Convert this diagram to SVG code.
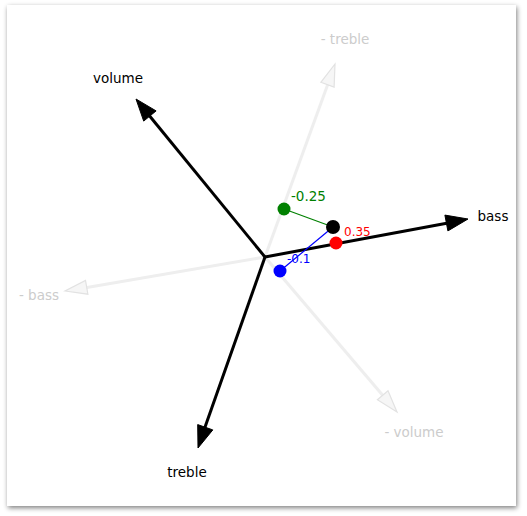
<svg xmlns="http://www.w3.org/2000/svg" width="527" height="516" viewBox="0 0 527 516">
<defs>
<filter id="sh" x="-5%" y="-5%" width="110%" height="110%">
<feGaussianBlur in="SourceAlpha" stdDeviation="2.5"/>
<feOffset dx="1" dy="2" result="b"/>
<feComponentTransfer><feFuncA type="linear" slope="0.5"/></feComponentTransfer>
<feMerge><feMergeNode/><feMergeNode in="SourceGraphic"/></feMerge>
</filter>
<style>
text{font-family:"DejaVu Sans",sans-serif;font-size:13.5px}
.lbl{fill:#000}
.faint{fill:#cccccc}
.axis{stroke:#000;stroke-width:3;fill:none}
.head{fill:#000;stroke:#000;stroke-width:1}
.faxis{stroke:#eeeeee;stroke-width:3;fill:none}
.fhead{fill:#f6f6f6;stroke:#e2e2e2;stroke-width:1.2}
</style>
</defs>
<rect x="0" y="0" width="527" height="516" fill="#ffffff"/>
<rect x="7" y="5" width="509" height="501" fill="#ffffff" filter="url(#sh)"/>
<g id="connectors">
<line class="faxis" x1="265" y1="257" x2="329" y2="81"/>
<polygon class="fhead" points="335,64 334.1,87.1 320.9,82.3"/>
<line class="faxis" x1="265" y1="257" x2="84" y2="288"/>
<polygon class="fhead" points="65,291 87.9,294.2 85.5,280.4"/>
<line class="faxis" x1="265" y1="257" x2="385" y2="398"/>
<polygon class="fhead" points="397,412 388,390.8 377.4,399.8"/>
<line class="axis" x1="265" y1="257" x2="448" y2="223"/>
<polygon class="head" points="468,219 447.9,230.9 444.9,215.1"/>
<line class="axis" x1="265" y1="257" x2="148" y2="114"/>
<polygon class="head" points="136,99 156.1,110.9 143.7,121.1"/>
<line class="axis" x1="265" y1="257" x2="204" y2="430"/>
<polygon class="head" points="198,448 212.8,429.9 197.7,424.6"/>
<line x1="284" y1="209" x2="333" y2="227" stroke="#008000" stroke-width="1.2"/>
<line x1="280" y1="271" x2="333" y2="227" stroke="#0000ff" stroke-width="1.2"/>
</g>
<g id="axis-labels">
<text class="lbl" x="118" y="83" text-anchor="middle">volume</text>
<text class="lbl" x="493" y="221" text-anchor="middle">bass</text>
<text class="lbl" x="187" y="477" text-anchor="middle">treble</text>
<text class="faint" x="345" y="44" text-anchor="middle">- treble</text>
<text class="faint" x="39" y="300" text-anchor="middle">- bass</text>
<text class="faint" x="414" y="437" text-anchor="middle">- volume</text>
</g>
<g id="point-main"><circle cx="333" cy="227" r="7" fill="#000"/></g>
<g id="point-green"><circle cx="284" cy="209" r="6.5" fill="#008000"/><text x="291" y="201" fill="#008000" font-size="12">-0.25</text></g>
<g id="point-red"><circle cx="336" cy="243" r="6.5" fill="#ff0000"/><text x="344" y="236" fill="#ff0000" style="font-size:12px">0.35</text></g>
<g id="point-blue"><circle cx="280" cy="271" r="6.5" fill="#0000ff"/><text x="287" y="263" fill="#0000ff" style="font-size:12px">-0.1</text></g>
</svg>
